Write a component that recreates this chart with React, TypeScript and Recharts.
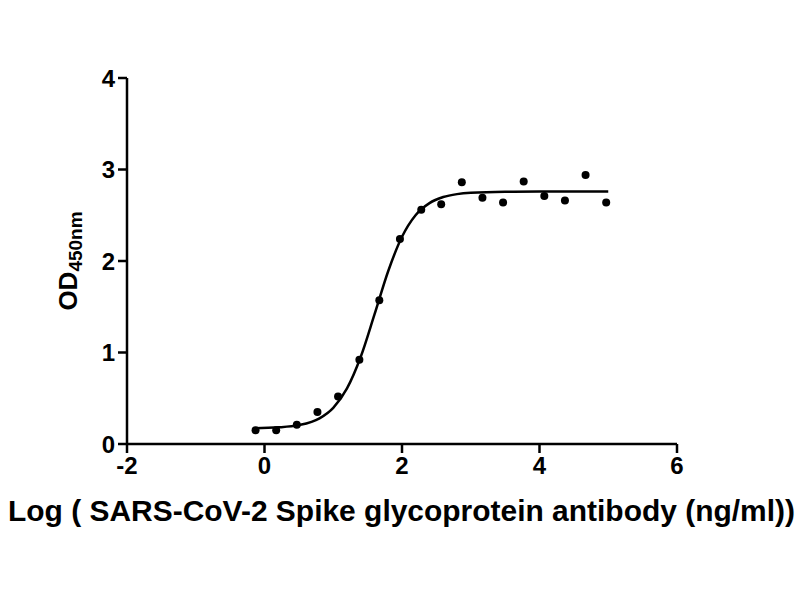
import { ComposedChart, Line, Scatter, XAxis, YAxis } from "recharts";

// measured points (log conc, OD450)
const logConc = [-0.13, 0.17, 0.47, 0.77, 1.07, 1.38, 1.67, 1.97, 2.28, 2.57, 2.87, 3.17, 3.47, 3.77, 4.07, 4.37, 4.67, 4.97];
const odValues = [0.15, 0.15, 0.21, 0.35, 0.52, 0.92, 1.57, 2.24, 2.56, 2.62, 2.86, 2.69, 2.64, 2.87, 2.71, 2.66, 2.94, 2.64];

// fitted curve
const fitX = [-0.15, 0.2, 0.5, 0.8, 1.0, 1.2, 1.4, 1.6, 1.8, 2.0, 2.2, 2.4, 2.6, 2.8, 3.0, 3.5, 4.0, 5.0];
const fitY = [0.173, 0.182, 0.206, 0.28, 0.395, 0.607, 0.953, 1.416, 1.891, 2.265, 2.503, 2.633, 2.699, 2.731, 2.746, 2.757, 2.759, 2.76];

const xTicks = [-2, 0, 2, 4, 6];
const yTicks = [0, 1, 2, 3, 4];

const xTitle = "Log ( SARS-CoV-2 Spike glycoprotein antibody (ng/ml))";

const points = logConc.map((x, i) => ({ x, y: odValues[i] }));
const curve = fitX.map((x, i) => ({ x, y: fitY[i] }));

const FONT = "'Liberation Sans', Arial, sans-serif";

const YLabel = (props: any) => {
  const { viewBox } = props;
  const cx = 68;
  const cy = viewBox.y + viewBox.height / 2;
  return (
    <text
      x={cx}
      y={cy}
      transform={`rotate(-90, ${cx}, ${cy})`}
      textAnchor="middle"
      dominantBaseline="central"
      fontFamily={FONT}
      fontWeight="bold"
      fill="#000"
    >
      <tspan fontSize={26}>OD</tspan>
      <tspan fontSize={19} dy={7}>450nm</tspan>
    </text>
  );
};

const XLabel = () => (
  <text
    x={8}
    y={521}
    textLength={787}
    lengthAdjust="spacingAndGlyphs"
    fontFamily={FONT}
    fontWeight="bold"
    fontSize={29}
    fill="#000"
  >
    {xTitle}
  </text>
);

const App = () => {
  return (
    <div style={{ position: "absolute", left: 0, top: 0, background: "#fff" }}>
      <ComposedChart width={800} height={600} margin={{ top: 78, right: 123, bottom: 96, left: 30 }}>
        <XAxis
          type="number"
          dataKey="x"
          domain={[-2, 6]}
          ticks={xTicks}
          height={60}
          allowDataOverflow
          stroke="#000"
          strokeWidth={2.5}
          tickSize={9}
          tickLine={{ stroke: "#000", strokeWidth: 2.5 }}
          tick={{ fill: "#000", fontSize: 24, fontWeight: "bold", fontFamily: FONT }}
          tickMargin={4}
          label={<XLabel />}
        />
        <YAxis
          type="number"
          dataKey="y"
          domain={[0, 4]}
          ticks={yTicks}
          width={97}
          stroke="#000"
          strokeWidth={2.5}
          tickSize={9}
          tickLine={{ stroke: "#000", strokeWidth: 2.5 }}
          tick={{ fill: "#000", fontSize: 24, fontWeight: "bold", fontFamily: FONT }}
          tickMargin={3}
          label={<YLabel />}
        />
        <Line
          data={curve}
          dataKey="y"
          type="monotone"
          stroke="#000"
          strokeWidth={2.5}
          dot={false}
          isAnimationActive={false}
        />
        <Scatter data={points} dataKey="y" fill="#000" shape={(p: any) => <circle cx={p.cx} cy={p.cy} r={4} fill="#000" />} isAnimationActive={false} />
      </ComposedChart>
    </div>
  );
};

export default App;
